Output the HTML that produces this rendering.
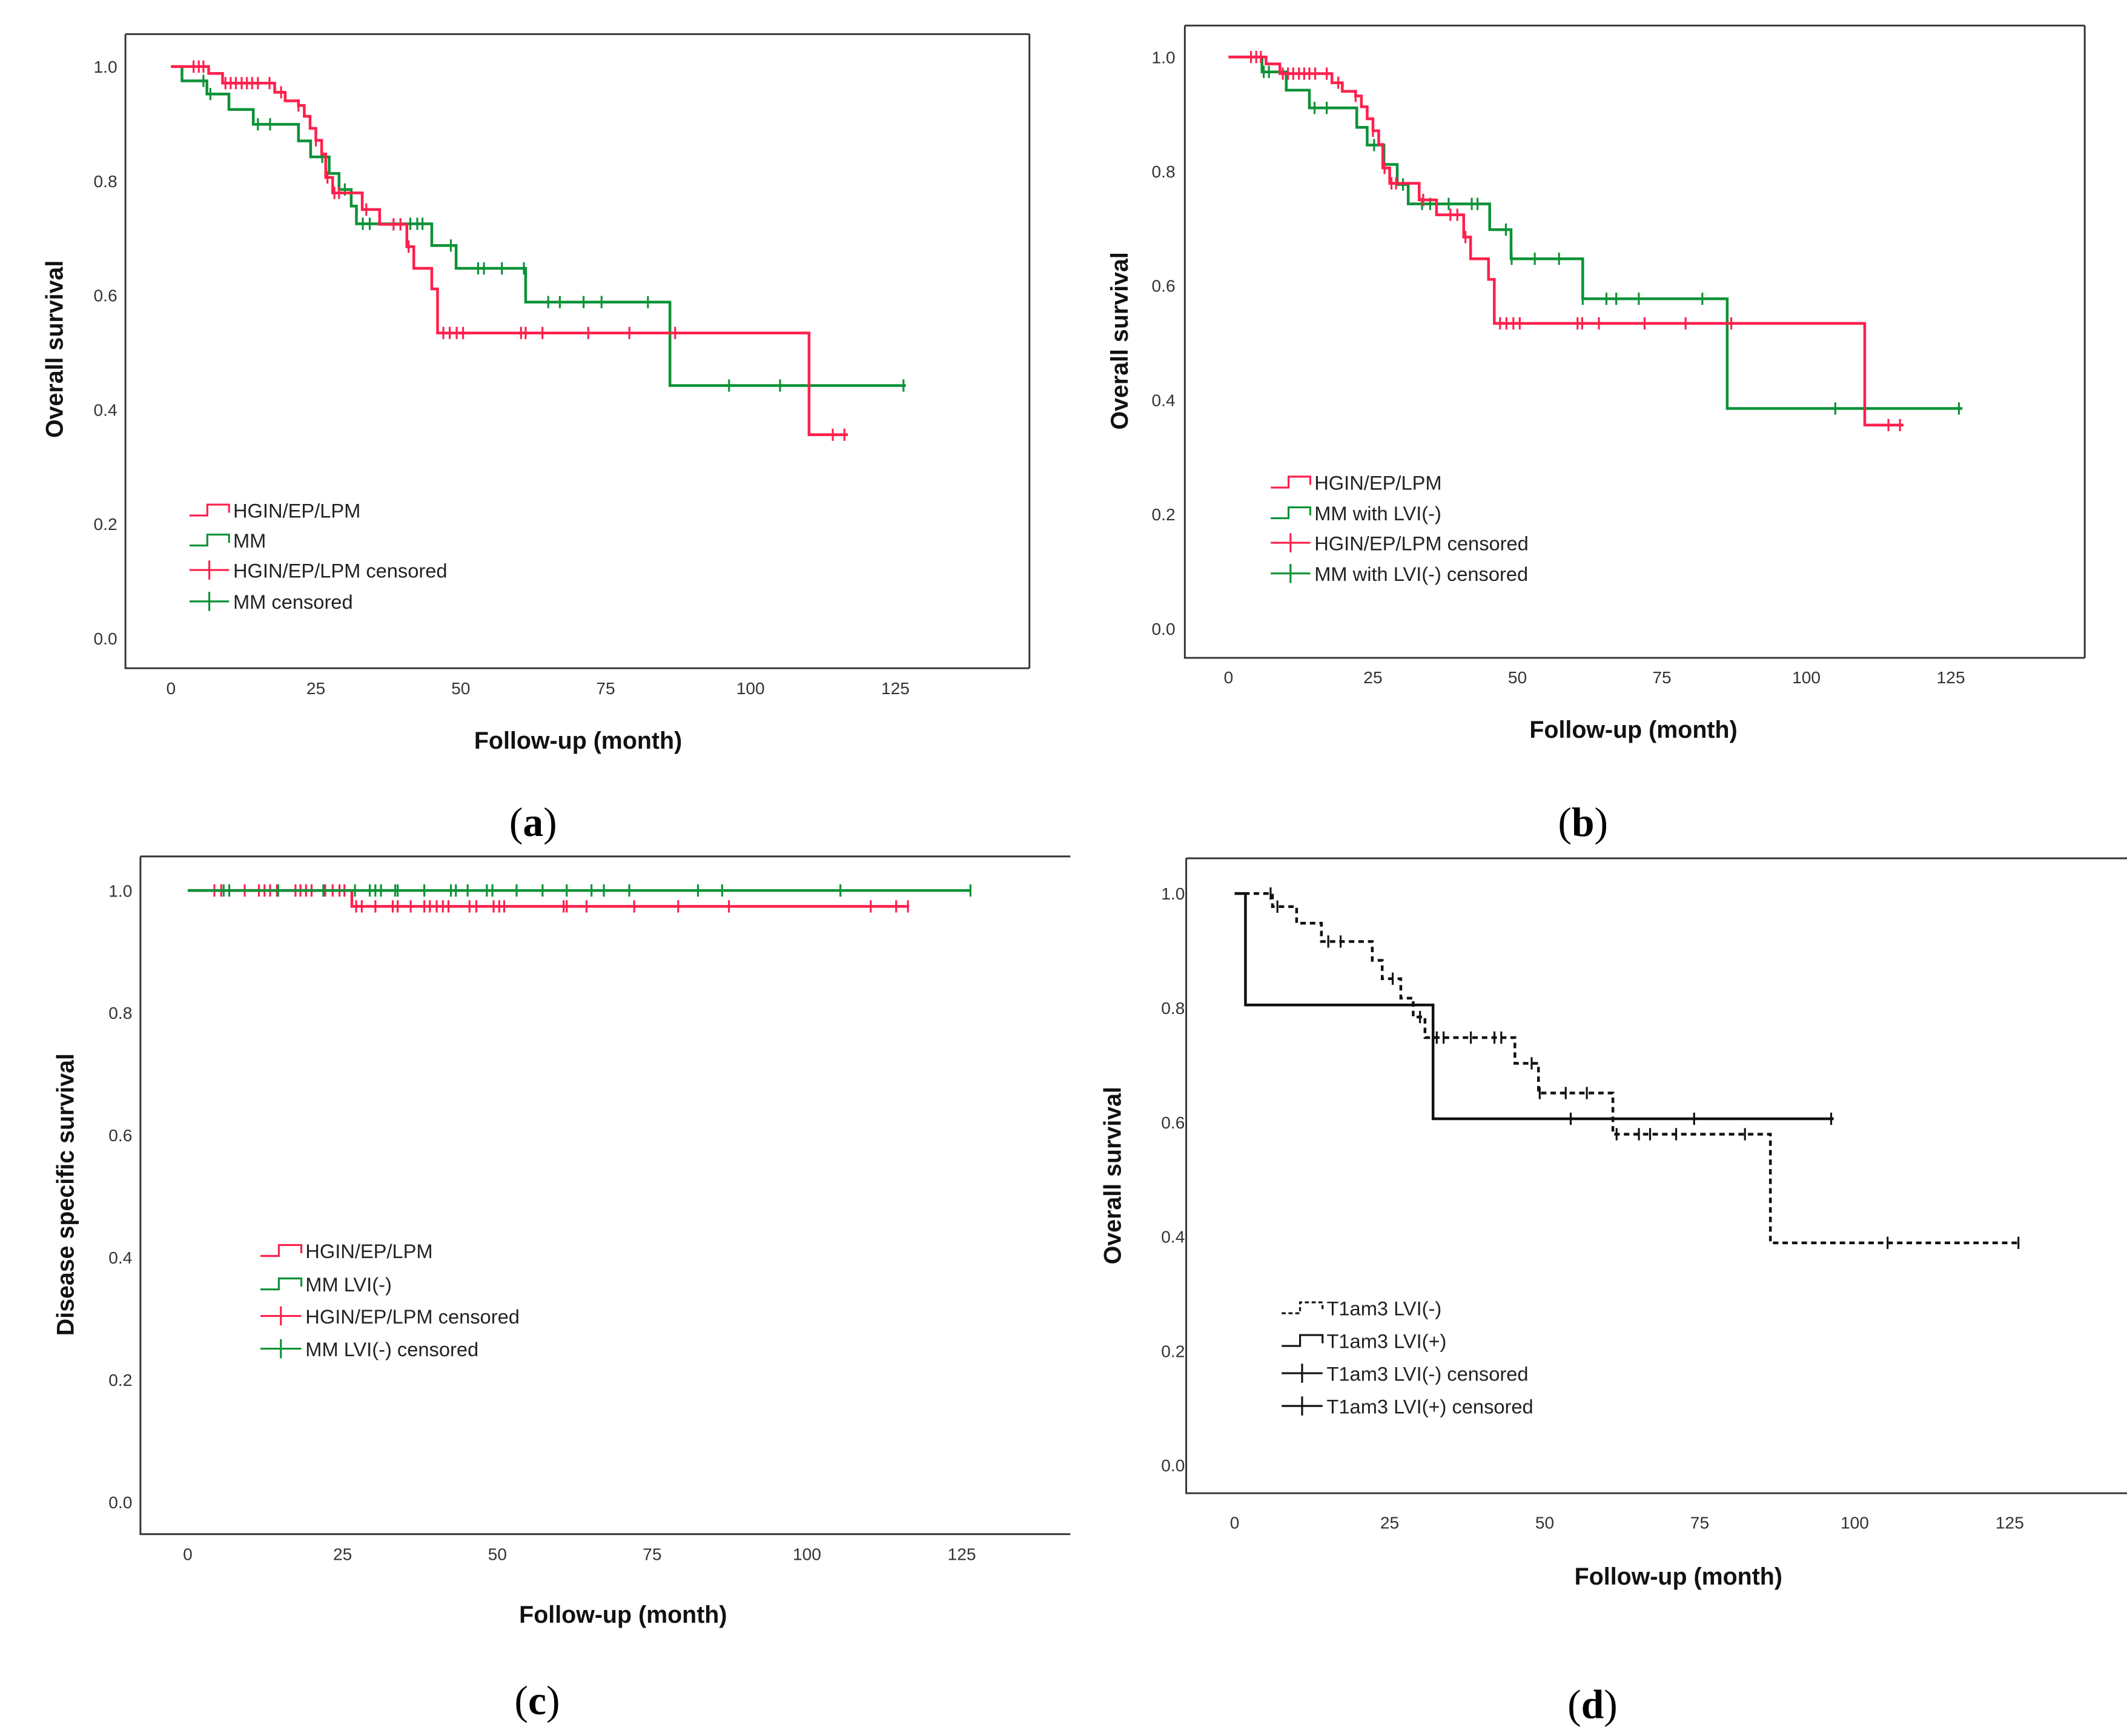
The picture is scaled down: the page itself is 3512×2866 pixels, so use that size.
<!DOCTYPE html>
<html><head><meta charset="utf-8">
<style>
html,body{margin:0;padding:0;background:#fff;}
svg{display:block;}
.tick{font-family:"Liberation Sans",sans-serif;font-size:12.5px;fill:#333;}
.leg{font-family:"Liberation Sans",sans-serif;font-size:14.5px;fill:#222;}
.ttl{font-family:"Liberation Sans",sans-serif;font-size:17.5px;font-weight:bold;fill:#111;}
.pl{font-family:"Liberation Serif",serif;font-size:30px;fill:#000;}
</style></head>
<body>
<svg id="fig" width="3512" height="2866" viewBox="0 0 1560 1273" xmlns="http://www.w3.org/2000/svg"></svg>
<script>
// ---- Data (months, survival) ----
// Panel a
const aRedT=[6.5,8.9,17.9,19.7,22,23,24,25,26,26.7,27.9,33,36,40.7,41.9,45,46,110.1];
const aRedS=[0.988,0.971,0.955,0.94,0.932,0.913,0.892,0.871,0.847,0.806,0.779,0.75,0.724,0.685,0.647,0.611,0.534,0.356];
const aRedEnd=116.8;
const aRedCT=[3.9,4.8,5.6,9.4,10.3,11.2,12.2,13.1,14,15,17,19,22,25,27,28.2,29,33.7,38.4,39.6,41,47,48.1,49.3,50.4,60.4,61.2,64.1,72,79.1,87,114.2,116.2];
const aGrnT=[1.9,6.2,10,14.2,22,24.1,27.3,29,31.1,32,45,49.2,61.2,86.1];
const aGrnS=[0.975,0.952,0.925,0.899,0.87,0.842,0.813,0.785,0.756,0.725,0.687,0.647,0.588,0.442];
const aGrnEnd=126.8;
const aGrnCT=[5.6,6.8,15,17.1,26.1,30,33.1,34.3,41.3,42.5,43.4,48.3,53,54,57.1,60.9,65.1,67.1,71.2,74.3,82.3,96.3,105.1,126.4];
// Panel b
const bGrnT=[5.8,10,14,22.2,24,26.9,29.2,31.1,45.2,48.9,61.3,86.3];
const bGrnS=[0.974,0.942,0.911,0.877,0.846,0.812,0.777,0.743,0.698,0.647,0.577,0.385];
const bGrnEnd=127;
const bGrnCT=[6.1,7,14.9,17,25.2,30.2,33.5,34.9,38.1,42.1,43.1,48,49,53,57.2,61.3,65.4,67.1,71,82,105,126.4];
// Panel c
const cRedT=[26.5];
const cRedS=[0.974];
const cRedEnd=116.5;
const cRedCT=[4.3,5.4,9.2,11.5,12.4,13.3,14.4,17.4,18.2,19.1,20,22.2,23.4,24.5,25.3,27.2,28.1,30.3,33.1,33.9,36,38.2,39.1,40.2,41.2,42.1,45.5,46.6,49.4,50.3,51.1,60.7,61.2,64.4,72.1,79.2,87.4,110.3,114.4,116.3];
const cGrnT=[];
const cGrnS=[];
const cGrnEnd=126.5;
const cGrnCT=[5.8,6.7,14.6,21.9,27,29.4,30.3,31.2,33.5,33.9,38.2,42.5,43.3,45.2,48.3,49.2,53.1,57.3,61.2,65.2,67.2,71.3,82.4,86.3,105.4,126.4];
// Panel d
const dNegT=[6.1,10,14,22.2,23.8,26.8,28.8,30.7,45.2,49,61,86.4];
const dNegS=[0.977,0.948,0.916,0.883,0.851,0.817,0.784,0.748,0.703,0.651,0.579,0.389];
const dNegEnd=126.6;
const dNegCT=[5.8,6.9,15.1,17.1,25.5,29.9,32.6,33.7,38.1,41.9,43,47.9,49.2,53.4,56.8,61.6,65.2,67,71.2,82.3,105.3,126.4];
const dPosT=[1.75,32];
const dPosS=[0.805,0.606];
const dPosEnd=96.6;
const dPosCT=[54.2,74.1,96.2];
const xTicks=[0,25,50,75,100,125];
const yTicks=[0,0.2,0.4,0.6,0.8,1.0];
const yTickLabels=["0.0","0.2","0.4","0.6","0.8","1.0"];

const RED="#ff1f4c", GRN="#0b9237", BLK="#111";
const NS="http://www.w3.org/2000/svg";
const svg=document.getElementById('fig');
function mk(tag,attrs,parent){const e=document.createElementNS(NS,tag);for(const k in attrs)e.setAttribute(k,attrs[k]);(parent||svg).appendChild(e);return e;}

function survFn(T,S,t){let s=1;for(let i=0;i<T.length;i++){if(T[i]<=t)s=S[i];}return s;}

function panel(P){
  const g=mk('g',{});
  
  
  const X=m=>P.x0+(m/125)*(P.x125-P.x0);
  const Y=s=>P.y0+s*(P.y1-P.y0);
  const fr=mk('path',{d:`M${P.fl},${P.ft} H${P.fr} M${P.fl},${P.ft} V${P.fb} H${P.fr}`+(P.rightEdge?` M${P.fr},${P.ft} V${P.fb}`:''),fill:'none',stroke:'#333','stroke-width':1.3},g);
  
  
  yTicks.forEach((v,i)=>{
    const t=mk('text',{x:P.yl,y:Y(v)+4.5,'text-anchor':'end',class:'tick'},g);t.textContent=yTickLabels[i];
    
    
  });
  xTicks.forEach(v=>{
    const t=mk('text',{x:X(v),y:P.xl,'text-anchor':'middle',class:'tick'},g);t.textContent=String(v);
    
    
  });
  const yt=mk('text',{x:0,y:0,transform:`translate(${P.ytx},${P.yty}) rotate(-90)`,'text-anchor':'middle',class:'ttl'},g);yt.textContent=P.ytitle;
  
  
  const xt=mk('text',{x:P.xtx,y:P.xty,'text-anchor':'middle',class:'ttl'},g);xt.textContent='Follow-up (month)';
  
  
  const pl=mk('text',{x:P.plx,y:P.ply,'text-anchor':'middle',class:'pl'},g);
  pl.innerHTML='(<tspan font-weight="bold">'+P.id+'</tspan>)';
  
  
  P.series.forEach(s=>{
    let d=`M${X(0)},${Y(1)}`;let cur=1;
    s.T.forEach((t,i)=>{d+=` H${X(t)} V${Y(s.S[i])}`;cur=s.S[i];});
    d+=` H${X(s.end)}`;
    const p=mk('path',{d:d,fill:'none',stroke:s.c,'stroke-width':2,'stroke-dasharray':s.dash||'none'},g);
    
    
    s.CT.forEach(t=>{
      const yy=Y(survFn(s.T,s.S,t));
      const c=mk('path',{d:`M${X(t)},${yy-4.5} V${yy+4.5}`,stroke:s.c,'stroke-width':1.4},g);
      
      
    });
  });
  // legend
  P.legend.forEach((L,i)=>{
    const y=P.legY[i];const x1=P.legX1,x2=P.legX2;const xm=x1+(x2-x1)*0.45;
    let d;
    if(L.type==='step')d=`M${x1},${y+4} H${xm} V${y-4} H${x2} V${y+2}`;
    else d=`M${x1},${y} H${x2} M${(x1+x2)/2},${y-7} V${y+7}`;
    const p=mk('path',{d:d,fill:'none',stroke:L.c,'stroke-width':1.4,'stroke-dasharray':L.dash||'none'},g);
    
    
    const t=mk('text',{x:x2+3,y:y+5.5,class:'leg'},g);t.textContent=L.label;
    
    
  });
}

panel({id:'a',fl:92,fr:755,ft:25,fb:490,rightEdge:true,x0:125.4,x125:656.7,y1:48.8,y0:468,yl:86,xl:509,
  ytitle:'Overall survival',ytx:46,yty:256,xtx:424,xty:549,plx:391,ply:613,
  series:[{name:'mm',T:aGrnT,S:aGrnS,end:aGrnEnd,CT:aGrnCT,c:GRN},{name:'hgin',T:aRedT,S:aRedS,end:aRedEnd,CT:aRedCT,c:RED}],
  legX1:139,legX2:168,legY:[374,396,418,441],
  legend:[{type:'step',c:RED,label:'HGIN/EP/LPM'},{type:'step',c:GRN,label:'MM'},{type:'cens',c:RED,label:'HGIN/EP/LPM censored'},{type:'cens',c:GRN,label:'MM censored'}]});
panel({id:'b',fl:869,fr:1529,ft:18.7,fb:482.4,rightEdge:true,x0:901,x125:1430.8,y1:41.8,y0:460.9,yl:862,xl:501,
  ytitle:'Overall survival',ytx:827,yty:250,xtx:1198,xty:541,plx:1161,ply:613,
  series:[{name:'mm-lvi-neg',T:bGrnT,S:bGrnS,end:bGrnEnd,CT:bGrnCT,c:GRN},{name:'hgin',T:aRedT,S:aRedS,end:aRedEnd,CT:aRedCT,c:RED}],
  legX1:932,legX2:961,legY:[353.5,376,398,420.5],
  legend:[{type:'step',c:RED,label:'HGIN/EP/LPM'},{type:'step',c:GRN,label:'MM with LVI(-)'},{type:'cens',c:RED,label:'HGIN/EP/LPM censored'},{type:'cens',c:GRN,label:'MM with LVI(-) censored'}]});
panel({id:'c',fl:103,fr:785,ft:628,fb:1125,rightEdge:false,x0:137.7,x125:705.4,y1:653,y0:1101.5,yl:97,xl:1144,
  ytitle:'Disease specific survival',ytx:54,yty:876,xtx:457,xty:1190,plx:394,ply:1257,
  series:[{name:'hgin',T:cRedT,S:cRedS,end:cRedEnd,CT:cRedCT,c:RED},{name:'mm-lvi-neg',T:cGrnT,S:cGrnS,end:cGrnEnd,CT:cGrnCT,c:GRN}],
  legX1:191,legX2:221,legY:[917,941.5,965,989],
  legend:[{type:'step',c:RED,label:'HGIN/EP/LPM'},{type:'step',c:GRN,label:'MM LVI(-)'},{type:'cens',c:RED,label:'HGIN/EP/LPM censored'},{type:'cens',c:GRN,label:'MM LVI(-) censored'}]});
panel({id:'d',fl:870,fr:1560,ft:629.4,fb:1095,rightEdge:false,x0:905.5,x125:1474,y1:655.2,y0:1074.5,yl:869,xl:1121,
  ytitle:'Overall survival',ytx:822,yty:862,xtx:1231,xty:1162,plx:1168,ply:1260,
  series:[{name:'lvi-neg',T:dNegT,S:dNegS,end:dNegEnd,CT:dNegCT,c:BLK,dash:'4,3'},{name:'lvi-pos',T:dPosT,S:dPosS,end:dPosEnd,CT:dPosCT,c:BLK}],
  legX1:940,legX2:970,legY:[959,983,1007,1031],
  legend:[{type:'step',c:BLK,dash:'3,2',label:'T1am3 LVI(-)'},{type:'step',c:BLK,label:'T1am3 LVI(+)'},{type:'cens',c:BLK,label:'T1am3 LVI(-) censored'},{type:'cens',c:BLK,label:'T1am3 LVI(+) censored'}]});
</script>
</body></html>
